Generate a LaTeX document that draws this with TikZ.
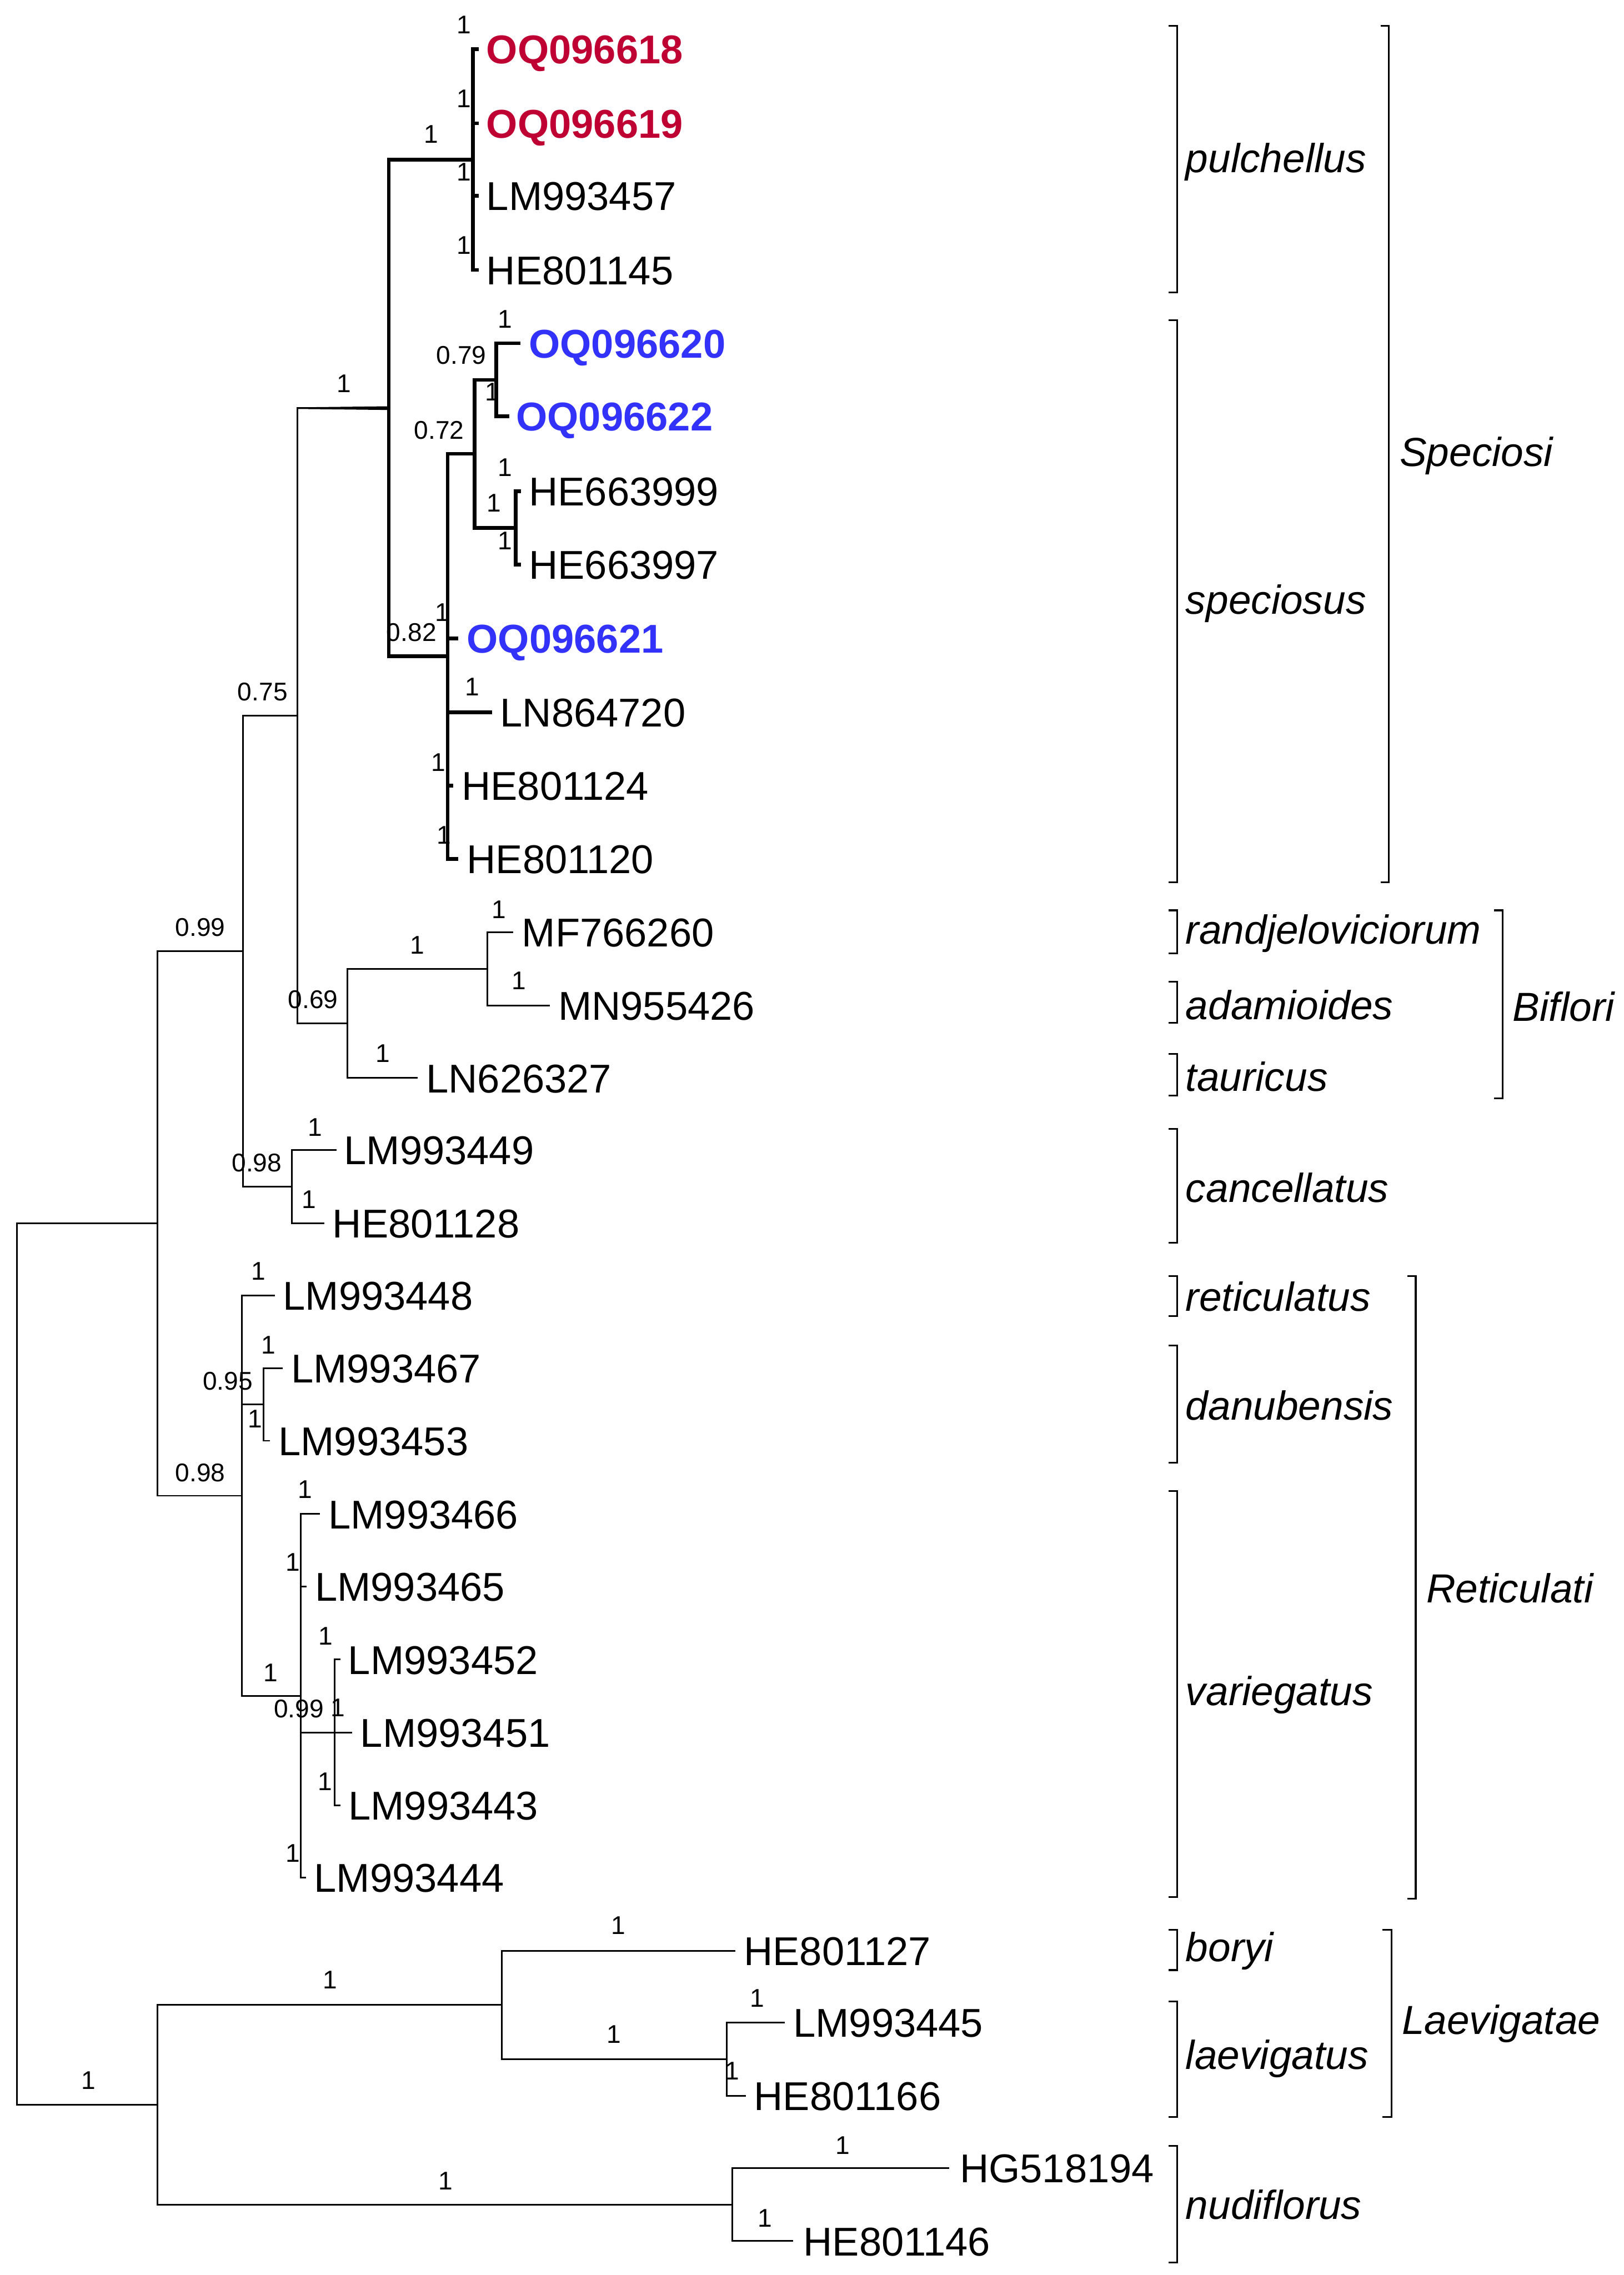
\documentclass[tikz,border=0pt]{standalone}
\usepackage{fontspec}
\setmainfont{Liberation Sans}
\usetikzlibrary{calc}
\definecolor{oqred}{RGB}{190,0,50}
\definecolor{oqblue}{RGB}{50,50,250}
\tikzset{
  br/.style={line width=0.03cm},
  brthick/.style={line width=0.07cm},
  tiplab/.style={anchor=base west, inner sep=0pt, font=\fontsize{21.5}{25}\selectfont},
  tipred/.style={tiplab, font=\fontsize{21.5}{25}\selectfont\bfseries, text=oqred},
  tipblue/.style={tiplab, font=\fontsize{21.5}{25}\selectfont\bfseries, text=oqblue},
  sup/.style={inner sep=0pt, font=\fontsize{13.7}{16}\selectfont},
  cladelab/.style={anchor=west, inner sep=0pt, font=\fontsize{21.7}{25}\selectfont\itshape},
  bracket/.style={line width=0.033cm},
}
\begin{document}
\begin{tikzpicture}[x=0.02729cm, y=-0.02729cm]
\fill[white] (0,0) rectangle (1119,1568);
\useasboundingbox (0,0) rectangle (1119,1568);

% ---------- internal nodes ----------
\coordinate (nRoot) at (11.7,1146.9);
\coordinate (nA) at (108.5,843.15);
\coordinate (nB) at (167.5,655.4);
\coordinate (nC) at (205,493.1);
\coordinate (nS) at (268,281.3);
\coordinate (nP) at (326,110);
\coordinate (nSp) at (308.5,452.4);
\coordinate (nQ) at (327,312.8);
\coordinate (nQa) at (342,261.8);
\coordinate (nQb) at (355.5,363.75);
\coordinate (nBi) at (239.5,705.4);
\coordinate (nM) at (336,667.75);
\coordinate (nCa) at (201.3,817.75);
\coordinate (nR) at (166.8,1030.9);
\coordinate (nD) at (181.8,968);
\coordinate (nV) at (207.4,1168.75);
\coordinate (nW) at (230.5,1194.1);
\coordinate (nL) at (108.5,1450.65);
\coordinate (nG) at (345.9,1381.85);
\coordinate (nH) at (501,1419.2);
\coordinate (nN) at (504.8,1519.45);

% ---------- tips ----------
\coordinate (t1) at (330,34);
\coordinate (t2) at (330,85);
\coordinate (t3) at (330,135);
\coordinate (t4) at (330,186);
\coordinate (t5) at (358.8,236.6);
\coordinate (t6) at (351,287);
\coordinate (t7) at (359,338.5);
\coordinate (t8) at (359,389);
\coordinate (t9) at (316,440);
\coordinate (t10) at (339,491);
\coordinate (t11) at (312.5,541.5);
\coordinate (t12) at (316,592);
\coordinate (t13) at (353.8,642.5);
\coordinate (t14) at (379,693);
\coordinate (t15) at (288,743);
\coordinate (t16) at (231.9,792.5);
\coordinate (t17) at (223.5,843);
\coordinate (t18) at (189.3,893);
\coordinate (t19) at (194.9,943);
\coordinate (t20) at (186.2,993);
\coordinate (t21) at (220.6,1043.5);
\coordinate (t22) at (211.4,1093.5);
\coordinate (t23) at (234.7,1143.8);
\coordinate (t24) at (242.6,1194.1);
\coordinate (t25) at (234.7,1244.4);
\coordinate (t26) at (210.8,1294);
\coordinate (t27) at (507,1344.5);
\coordinate (t28) at (541,1394);
\coordinate (t29) at (514,1444.4);
\coordinate (t30) at (654.4,1494.3);
\coordinate (t31) at (546.8,1544.6);

% ---------- tip labels (baseline = tip y + half cap height) ----------
\node[tipred]  (l1)  at ($(t1)+(5,10)$) {OQ096618};
\node[tipred]  (l2)  at ($(t2)+(5,10)$) {OQ096619};
\node[tiplab]  (l3)  at ($(t3)+(5,10)$) {LM993457};
\node[tiplab]  (l4)  at ($(t4)+(5,10)$) {HE801145};
\node[tipblue] (l5)  at ($(t5)+(5.5,10)$) {OQ096620};
\node[tipblue] (l6)  at ($(t6)+(4.5,10)$) {OQ096622};
\node[tiplab]  (l7)  at ($(t7)+(5.3,10)$) {HE663999};
\node[tiplab]  (l8)  at ($(t8)+(5.3,10)$) {HE663997};
\node[tipblue] (l9)  at ($(t9)+(5.5,10)$) {OQ096621};
\node[tiplab]  (l10) at ($(t10)+(5.5,10)$) {LN864720};
\node[tiplab]  (l11) at ($(t11)+(5.5,10)$) {HE801124};
\node[tiplab]  (l12) at ($(t12)+(5.5,10)$) {HE801120};
\node[tiplab]  (l13) at ($(t13)+(5.7,10)$) {MF766260};
\node[tiplab]  (l14) at ($(t14)+(5.5,10)$) {MN955426};
\node[tiplab]  (l15) at ($(t15)+(5.5,10)$) {LN626327};
\node[tiplab]  (l16) at ($(t16)+(5,10)$) {LM993449};
\node[tiplab]  (l17) at ($(t17)+(5.5,10)$) {HE801128};
\node[tiplab]  (l18) at ($(t18)+(5.5,10)$) {LM993448};
\node[tiplab]  (l19) at ($(t19)+(5.5,10)$) {LM993467};
\node[tiplab]  (l20) at ($(t20)+(5.5,10)$) {LM993453};
\node[tiplab]  (l21) at ($(t21)+(5.5,10)$) {LM993466};
\node[tiplab]  (l22) at ($(t22)+(5.5,10)$) {LM993465};
\node[tiplab]  (l23) at ($(t23)+(5,10)$) {LM993452};
\node[tiplab]  (l24) at ($(t24)+(5.5,10)$) {LM993451};
\node[tiplab]  (l25) at ($(t25)+(5.2,10)$) {LM993443};
\node[tiplab]  (l26) at ($(t26)+(5.5,10)$) {LM993444};
\node[tiplab]  (l27) at ($(t27)+(5.5,10)$) {HE801127};
\node[tiplab]  (l28) at ($(t28)+(5.5,10)$) {LM993445};
\node[tiplab]  (l29) at ($(t29)+(5.5,10)$) {HE801166};
\node[tiplab]  (l30) at ($(t30)+(6.9,10)$) {HG518194};
\node[tiplab]  (l31) at ($(t31)+(6.7,10)$) {HE801146};

% ---------- thin branches ----------
\draw[br] (nRoot) |- (nA);
\draw[br] (nRoot) |- (nL);
\draw[br] (nA) |- (nB);
\draw[br] (nA) |- (nR);
\draw[br] (nB) |- (nC);
\draw[br] (nB) |- (nCa);
\draw[br] (nC) |- (nS);
\draw[br] (nC) |- (nBi);
\fill ($(nC|-nS)+(0,-0.55)$) -- ($(nS)+(0,-1.28)$) -- ($(nS)+(0,1.28)$) -- ($(nC|-nS)+(0,0.55)$) -- cycle;
\draw[br] (nBi) |- (nM);
\draw[br] (nBi) |- (t15);
\draw[br] (nM) |- (t13);
\draw[br] (nM) |- (t14);
\draw[br] (nCa) |- (t16);
\draw[br] (nCa) |- (t17);
\draw[br] (nR) |- (t18);
\draw[br] (nR) |- (nD);
\draw[br] (nR) |- (nV);
\draw[br] (nD) |- (t19);
\draw[br] (nD) |- (t20);
\draw[br] (nV) |- (t21);
\draw[br] (nV) |- (t22);
\draw[br] (nV) |- (nW);
\draw[br] (nV) |- (t26);
\draw[br] (nW) |- (t23);
\draw[br] (nW) -- (t24);
\draw[br] (nW) |- (t25);
\draw[br] (nL) |- (nG);
\draw[br] (nL) |- (nN);
\draw[br] (nG) |- (t27);
\draw[br] (nG) |- (nH);
\draw[br] (nH) |- (t28);
\draw[br] (nH) |- (t29);
\draw[br] (nN) |- (t30);
\draw[br] (nN) |- (t31);

% ---------- thick branches (Speciosi) ----------
\draw[brthick] (nS) |- (nP);
\draw[brthick] (nS) |- (nSp);
\draw[brthick] (nP) |- (t1);
\draw[brthick] (nP) |- (t2);
\draw[brthick] (nP) |- (t3);
\draw[brthick] (nP) |- (t4);
\draw[brthick] (nSp) |- (nQ);
\draw[brthick] (nSp) |- (t9);
\draw[brthick] (nSp) |- (t10);
\draw[brthick] (nSp) |- (t11);
\draw[brthick] (nSp) |- (t12);
\draw[brthick] (nQ) |- (nQa);
\draw[brthick] (nQ) |- (nQb);
\draw[brthick] (nQa) |- (t5);
\draw[brthick] (nQa) |- (t6);
\draw[brthick] (nQb) |- (t7);
\draw[brthick] (nQb) |- (t8);

% ---------- support values ----------
\node[sup] (s1)  at (319.6,17) {1};
\node[sup] (s2)  at (319.6,68) {1};
\node[sup] (s3)  at (319.6,118.5) {1};
\node[sup] (s4)  at (319.6,169) {1};
\node[sup] (s5)  at (297.3,92.6) {1};
\node[sup] (s6)  at (237,264.5) {1};
\node[sup] (s7)  at (181,477) {0.75};
\node[sup] (s8)  at (138,639.2) {0.99};
\node[sup] (s9)  at (138,1015) {0.98};
\node[sup] (s10) at (60.8,1434) {1};
\node[sup] (s11) at (283.6,435.7) {0.82};
\node[sup] (s12) at (302.7,296.5) {0.72};
\node[sup] (s13) at (318,245) {0.79};
\node[sup] (s14) at (348,220) {1};
\node[sup] (s15) at (339.3,270) {1};
\node[sup] (s16) at (340.5,346.5) {1};
\node[sup] (s17) at (348,322) {1};
\node[sup] (s18) at (348,372.6) {1};
\node[sup] (s19) at (305,422) {1};
\node[sup] (s20) at (325.4,473.5) {1};
\node[sup] (s21) at (302,525.6) {1};
\node[sup] (s22) at (306,575.7) {1};
\node[sup] (s23) at (215.8,689) {0.69};
\node[sup] (s24) at (287.6,651.4) {1};
\node[sup] (s25) at (344,627) {1};
\node[sup] (s26) at (357.6,676) {1};
\node[sup] (s27) at (264,726) {1};
\node[sup] (s28) at (177,801.4) {0.98};
\node[sup] (s29) at (217.3,777) {1};
\node[sup] (s30) at (213,826.7) {1};
\node[sup] (s31) at (178,876) {1};
\node[sup] (s32) at (157,952) {0.95};
\node[sup] (s33) at (185,927) {1};
\node[sup] (s34) at (176,978) {1};
\node[sup] (s35) at (186.5,1152.7) {1};
\node[sup] (s36) at (210.3,1026.6) {1};
\node[sup] (s37) at (202,1076.8) {1};
\node[sup] (s38) at (206,1177.6) {0.99};
\node[sup] (s39) at (224.3,1127.8) {1};
\node[sup] (s40) at (232.7,1177) {1};
\node[sup] (s41) at (224,1228) {1};
\node[sup] (s42) at (202,1277.3) {1};
\node[sup] (s43) at (227.6,1364.6) {1};
\node[sup] (s44) at (426,1327) {1};
\node[sup] (s45) at (423,1402) {1};
\node[sup] (s46) at (522,1377.3) {1};
\node[sup] (s47) at (504.8,1427.4) {1};
\node[sup] (s48) at (307,1503) {1};
\node[sup] (s49) at (581,1478.5) {1};
\node[sup] (s50) at (527.2,1528.7) {1};

% ---------- species brackets ----------
\draw[bracket] (805.4,17.9) -- (811.5,17.9) -- (811.5,201.5) -- (805.4,201.5);
\node[cladelab] (c1) at (817,111.8) {pulchellus};
\draw[bracket] (805.4,220.6) -- (811.5,220.6) -- (811.5,608) -- (805.4,608);
\node[cladelab] (c2) at (817,416) {speciosus};
\draw[bracket] (805.4,627.4) -- (811.5,627.4) -- (811.5,657) -- (805.4,657);
\node[cladelab] (c3) at (817,643.2) {randjeloviciorum};
\draw[bracket] (805.4,676.5) -- (811.5,676.5) -- (811.5,704.8) -- (805.4,704.8);
\node[cladelab] (c4) at (817,692.6) {adamioides};
\draw[bracket] (805.4,726.3) -- (811.5,726.3) -- (811.5,755.2) -- (805.4,755.2);
\node[cladelab] (c5) at (817,742) {tauricus};
\draw[bracket] (805.4,778) -- (811.5,778) -- (811.5,856.6) -- (805.4,856.6);
\node[cladelab] (c6) at (817,818.6) {cancellatus};
\draw[bracket] (805.4,879.5) -- (811.5,879.5) -- (811.5,907) -- (805.4,907);
\node[cladelab] (c7) at (817,893.6) {reticulatus};
\draw[bracket] (805.4,927.4) -- (811.5,927.4) -- (811.5,1008) -- (805.4,1008);
\node[cladelab] (c8) at (817,968.5) {danubensis};
\draw[bracket] (805.4,1027.6) -- (811.5,1027.6) -- (811.5,1307.4) -- (805.4,1307.4);
\node[cladelab] (c9) at (817,1168) {variegatus};
\draw[bracket] (805.4,1330) -- (811.5,1330) -- (811.5,1357.8) -- (805.4,1357.8);
\node[cladelab] (c10) at (817,1344.8) {boryi};
\draw[bracket] (805.4,1379.4) -- (811.5,1379.4) -- (811.5,1459) -- (805.4,1459);
\node[cladelab] (c11) at (817,1419) {laevigatus};
\draw[bracket] (805.4,1479) -- (811.5,1479) -- (811.5,1559.5) -- (805.4,1559.5);
\node[cladelab] (c12) at (817,1519.5) {nudiflorus};

% ---------- section brackets ----------
\draw[bracket] (951.6,17.9) -- (957.3,17.9) -- (957.3,608) -- (951.6,608);
\node[cladelab] (g1) at (964.5,314) {Speciosi};
\draw[bracket] (1029.8,627.4) -- (1035.8,627.4) -- (1035.8,757) -- (1029.8,757);
\node[cladelab] (g2) at (1042.5,693.7) {Biflori};
\draw[bracket] (970,879.5) -- (975.8,879.5) -- (975.8,1308.6) -- (970,1308.6);
\node[cladelab] (g3) at (982.8,1094.6) {Reticulati};
\draw[bracket] (953,1330) -- (959,1330) -- (959,1459) -- (953,1459);
\node[cladelab] (g4) at (966,1394.7) {Laevigatae};
\end{tikzpicture}
\end{document}
